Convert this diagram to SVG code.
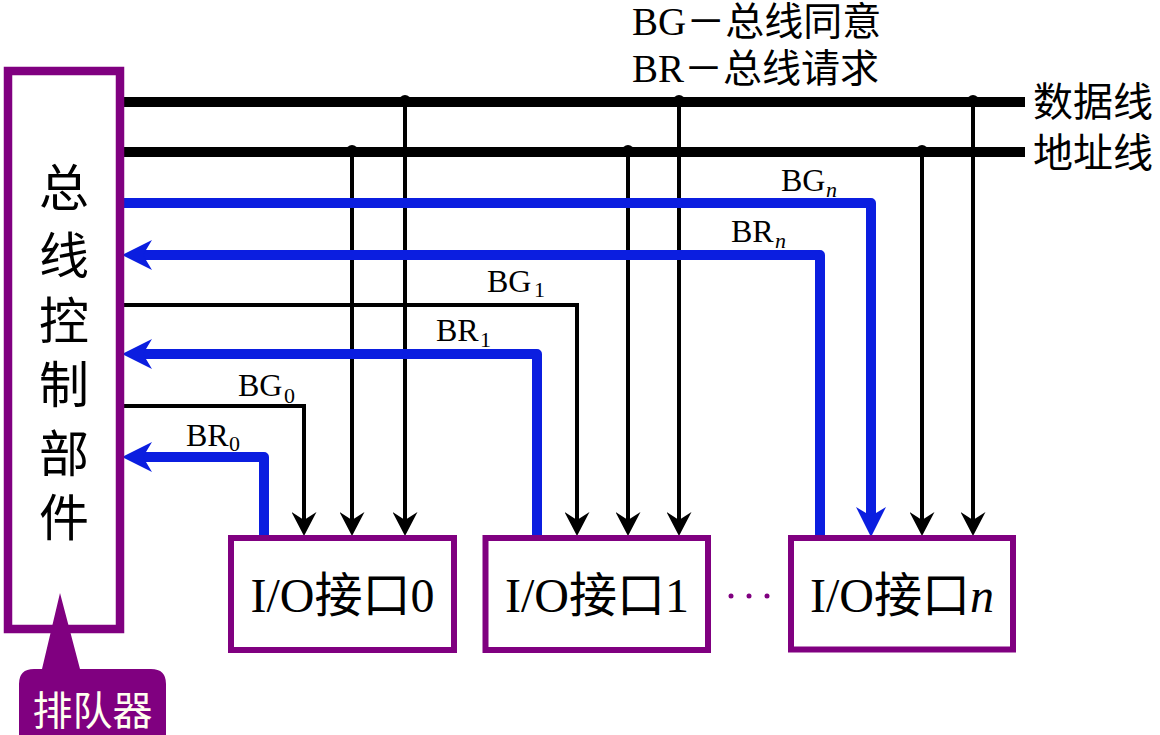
<svg xmlns="http://www.w3.org/2000/svg" width="1160" height="735" viewBox="0 0 1160 735">
<style>
.cn{font-family:"Noto Sans CJK SC","Liberation Serif",sans-serif;fill:#000}
.mix{font-family:"Liberation Serif","Noto Sans CJK SC",serif;fill:#000}
.box{fill:#fff;stroke:#800080}
.bus{stroke:#000;stroke-width:10;fill:none}
.thin{stroke:#000;stroke-width:4;fill:none;stroke-linejoin:miter}
.blue{stroke:#0b1ee0;stroke-width:10;fill:none;stroke-linejoin:round}
.lbl{font-family:"Liberation Serif",serif;font-size:32px;fill:#000}
.sub{font-family:"Liberation Serif",serif;font-size:22px;fill:#000}
</style>
<defs>
<marker id="ab" markerUnits="userSpaceOnUse" viewBox="0 0 24 25" markerWidth="24" markerHeight="25" refX="10" refY="12.5" orient="auto">
<path d="M0,0 L24,12.5 L0,25 L8,12.5 Z" fill="#000"/>
</marker>
<marker id="au" markerUnits="userSpaceOnUse" viewBox="0 0 30 30" markerWidth="30" markerHeight="30" refX="11" refY="15" orient="auto">
<path d="M0,0 L30,15 L0,30 L9,15 Z" fill="#0b1ee0"/>
</marker>
</defs>
<rect width="1160" height="735" fill="#fff"/>

<g id="legend">
<text class="mix" x="632" y="35" font-size="39">BG－总线同意</text>
<text class="mix" x="632" y="82" font-size="39">BR－总线请求</text>
</g>

<g id="connectors">
<line class="bus" x1="119" y1="102" x2="1025" y2="102"/>
<line class="bus" x1="119" y1="152" x2="1025" y2="152"/>
<g fill="#000">
<circle cx="405" cy="101" r="6"/><circle cx="679" cy="101" r="6"/><circle cx="973" cy="101" r="6"/>
<circle cx="352" cy="151" r="6"/><circle cx="628" cy="151" r="6"/><circle cx="922" cy="151" r="6"/>
</g>
<line class="thin" x1="405" y1="102" x2="405" y2="522" marker-end="url(#ab)"/>
<line class="thin" x1="679" y1="102" x2="679" y2="522" marker-end="url(#ab)"/>
<line class="thin" x1="973" y1="102" x2="973" y2="522" marker-end="url(#ab)"/>
<line class="thin" x1="352" y1="152" x2="352" y2="522" marker-end="url(#ab)"/>
<line class="thin" x1="628" y1="152" x2="628" y2="522" marker-end="url(#ab)"/>
<line class="thin" x1="922" y1="152" x2="922" y2="522" marker-end="url(#ab)"/>
<polyline class="thin" points="122,406 304,406 304,522" marker-end="url(#ab)"/>
<polyline class="thin" points="122,305 577,305 577,522" marker-end="url(#ab)"/>
<polyline class="blue" points="122,203 871,203 871,518" marker-end="url(#au)"/>
<polyline class="blue" points="820,536 820,255 141,255" marker-end="url(#au)"/>
<polyline class="blue" points="537,536 537,354 141,354" marker-end="url(#au)"/>
<polyline class="blue" points="264,536 264,457 141,457" marker-end="url(#au)"/>
<text class="lbl" x="781" y="191">BG</text><text class="sub" x="826" y="197" font-style="italic">n</text>
<text class="lbl" x="731" y="242">BR</text><text class="sub" x="775" y="248" font-style="italic">n</text>
<text class="lbl" x="487" y="292">BG</text><text class="sub" x="534" y="297">1</text>
<text class="lbl" x="436" y="341">BR</text><text class="sub" x="480" y="347">1</text>
<text class="lbl" x="238" y="396">BG</text><text class="sub" x="284" y="403">0</text>
<text class="lbl" x="186" y="446">BR</text><text class="sub" x="229" y="451">0</text>
</g>

<g id="bus-labels">
<text class="cn" x="1033" y="116" font-size="40">数据线</text>
<text class="cn" x="1033" y="167" font-size="40">地址线</text>
</g>

<g id="controller">
<rect class="box" x="8" y="71" width="112" height="558" stroke-width="8.5"/>
<g class="cn" font-size="50" text-anchor="middle">
<text x="64" y="206">总</text>
<text x="64" y="274">线</text>
<text x="64" y="339">控</text>
<text x="64" y="403">制</text>
<text x="64" y="472">部</text>
<text x="64" y="536">件</text>
</g>
</g>

<g id="queue">
<path d="M60,593 L80,669 L151,669 Q166,669 166,684 L166,735 L19,735 L19,684 Q19,669 34,669 L42,669 Z" fill="#800080"/>
<text class="cn" x="92.5" y="725" font-size="40" text-anchor="middle" style="fill:#fffff0">排队器</text>
</g>

<g id="io0">
<rect class="box" x="231" y="538" width="223" height="112" stroke-width="6"/>
<text class="mix" x="342.5" y="612" font-size="48" text-anchor="middle">I/O接口0</text>
</g>
<g id="io1">
<rect class="box" x="485.5" y="538" width="222.5" height="112" stroke-width="6"/>
<text class="mix" x="597" y="612" font-size="48" text-anchor="middle">I/O接口1</text>
</g>
<g id="dots" fill="#800080">
<circle cx="731" cy="596" r="2.5"/><circle cx="749" cy="596" r="2.5"/><circle cx="767" cy="596" r="2.5"/>
</g>
<g id="ion">
<rect class="box" x="791" y="538" width="222" height="111.5" stroke-width="6"/>
<text class="mix" x="902" y="612" font-size="48" text-anchor="middle">I/O接口<tspan font-style="italic">n</tspan></text>
</g>
</svg>
